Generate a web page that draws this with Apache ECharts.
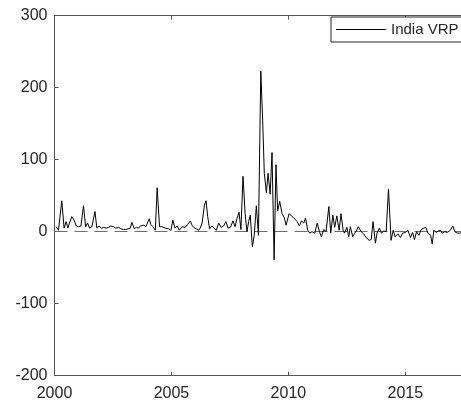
<!DOCTYPE html>
<html>
<head>
<meta charset="utf-8">
<script src="https://cdn.jsdelivr.net/npm/echarts@6/dist/echarts.min.js"></script>
<style>html,body{margin:0;padding:0;background:#fff;}#c{width:461px;height:402px;}</style>
</head>
<body>
<div id="c"></div>
<script>
// Time (decimal years) and India VRP values
const times = [
2000.07,2000.17,2000.31,2000.41,2000.50,2000.57,2000.64,2000.74,2000.84,2000.93,
2001.03,2001.13,2001.24,2001.33,2001.41,2001.50,2001.60,2001.73,2001.81,2001.90,
2002.00,2002.10,2002.21,2002.31,2002.41,2002.52,2002.62,2002.74,2002.84,2002.95,
2003.05,2003.15,2003.24,2003.31,2003.41,2003.50,2003.59,2003.67,2003.74,2003.82,2003.91,2003.98,
2004.05,2004.12,2004.21,2004.31,2004.39,2004.49,2004.59,2004.66,2004.74,2004.81,2004.88,2004.98,
2005.06,2005.15,2005.24,2005.34,2005.45,2005.52,2005.59,2005.69,2005.81,2005.88,2005.95,
2006.06,2006.16,2006.23,2006.31,2006.41,2006.48,2006.55,2006.63,2006.73,2006.80,2006.92,
2007.02,2007.12,2007.23,2007.33,2007.42,2007.52,2007.63,2007.72,2007.80,2007.89,2007.97,
2008.06,2008.15,2008.23,2008.30,2008.37,2008.46,2008.54,2008.63,2008.72,2008.82,2008.90,2008.97,
2009.06,2009.13,2009.22,2009.30,2009.39,2009.47,2009.54,2009.63,2009.73,2009.83,2009.90,
2010.03,2010.11,2010.20,2010.29,2010.37,2010.47,2010.56,2010.66,2010.73,2010.83,2010.91,
2011.01,2011.13,2011.23,2011.33,2011.41,2011.51,2011.61,2011.73,2011.81,2011.90,2011.98,
2012.07,2012.17,2012.25,2012.34,2012.40,2012.50,2012.58,2012.65,2012.75,2012.84,2012.92,2012.99,
2013.11,2013.22,2013.32,2013.45,2013.54,2013.62,2013.72,2013.79,2013.89,2013.98,
2014.08,2014.18,2014.28,2014.39,2014.48,2014.56,2014.68,2014.79,2014.89,
2015.01,2015.11,2015.22,2015.31,2015.39,2015.48,2015.58,2015.68,2015.79,2015.88,2015.96,
2016.08,2016.15,2016.22,2016.31,2016.41,2016.50,2016.58,2016.69,2016.80,2016.92,
2017.03,2017.12,2017.22,2017.33,2017.43,2017.53
];
const vrp = [
7,2,43,5,14,5,12,21,16,8,
7,8,36,7,12,5,7,28,5,8,
5,6,5,6,8,7,5,6,4,3,
3,4,5,13,4,6,5,8,10,9,7,6,
18,10,7,2,61,7,7,5,5,4,4,2,
16,5,8,2,7,6,6,10,15,9,6,
4,2,5,12,37,43,21,4,8,6,2,
12,6,8,14,5,6,15,7,18,27,3,
77,25,0,14,23,-21,-5,36,-5,223,155,81,
54,81,52,110,-39,93,29,42,25,19,9,
25,23,20,17,14,8,15,12,19,2,-2,
0,-2,12,0,-7,3,0,35,-2,23,6,
22,2,25,2,-2,6,-7,7,-7,-2,2,7,
0,-3,-8,-12,-11,14,-16,-2,5,-2,
1,0,59,-12,2,-7,-3,-8,-2,
-1,2,-8,-1,-11,0,-5,3,5,6,-2,
-5,-17,2,-1,1,2,-2,0,-1,2,
8,0,-2,-2,-1,-1
];
const xTicks = [2000, 2005, 2010, 2015];
const yTicks = [-200, -100, 0, 100, 200, 300];
const seriesName = 'India VRP';

const data = times.map((t, i) => [t, vrp[i]]);
const axisColor = '#555';
const textColor = '#262626';
const font = 'Liberation Sans, Arial, Helvetica, sans-serif';
const xMaxVisible = 2017.38; // the reference is cropped on the right at this point

const chart = echarts.init(document.getElementById('c'), null, {renderer: 'canvas'});
chart.setOption({
  animation: false,
  backgroundColor: '#fff',
  grid: {left: 54.5, top: 15.7, bottom: 26.3, right: 0, containLabel: false},
  legend: {
    left: 331, top: 17,
    data: [seriesName],
    icon: 'rect',
    padding: [5, 40, 5, 5],
    itemWidth: 50, itemHeight: 1,
    itemStyle: {color: '#000'},
    borderColor: '#262626', borderWidth: 1,
    backgroundColor: '#fff',
    textStyle: {fontFamily: font, fontSize: 15, color: textColor},
    selectedMode: false
  },
  xAxis: [{
    type: 'value', min: xTicks[0], max: xMaxVisible, interval: 5,
    axisLine: {show: true, onZero: false, lineStyle: {color: axisColor, width: 1}},
    axisTick: {show: true, inside: true, length: 4, lineStyle: {color: axisColor}},
    axisLabel: {fontFamily: font, fontSize: 16, color: textColor, margin: 10,
      showMaxLabel: false,
      formatter: v => xTicks.includes(v) ? String(v) : ''},
    splitLine: {show: false}
  }, {
    type: 'value', position: 'top', min: xTicks[0], max: xMaxVisible, interval: 5,
    axisLine: {show: true, onZero: false, lineStyle: {color: axisColor, width: 1}},
    axisTick: {show: true, inside: true, length: 4, lineStyle: {color: axisColor}},
    axisLabel: {show: false},
    splitLine: {show: false}
  }],
  yAxis: [{
    type: 'value', min: yTicks[0], max: yTicks[yTicks.length - 1], interval: 100,
    axisLine: {show: true, onZero: false, lineStyle: {color: axisColor, width: 1}},
    axisTick: {show: true, inside: true, length: 4, lineStyle: {color: axisColor}},
    axisLabel: {fontFamily: font, fontSize: 16, color: textColor, margin: 7},
    splitLine: {show: false}
  }],
  series: [{
    name: seriesName,
    type: 'line',
    data: data,
    symbol: 'none',
    lineStyle: {color: '#000', width: 1},
    itemStyle: {color: '#000'},
    z: 3,
    markLine: {
      silent: true, symbol: 'none', label: {show: false},
      lineStyle: {color: '#6e6e6e', type: [13, 7], width: 1},
      data: [{yAxis: 0}],
      z: 2
    }
  }]
});
</script>
</body>
</html>
